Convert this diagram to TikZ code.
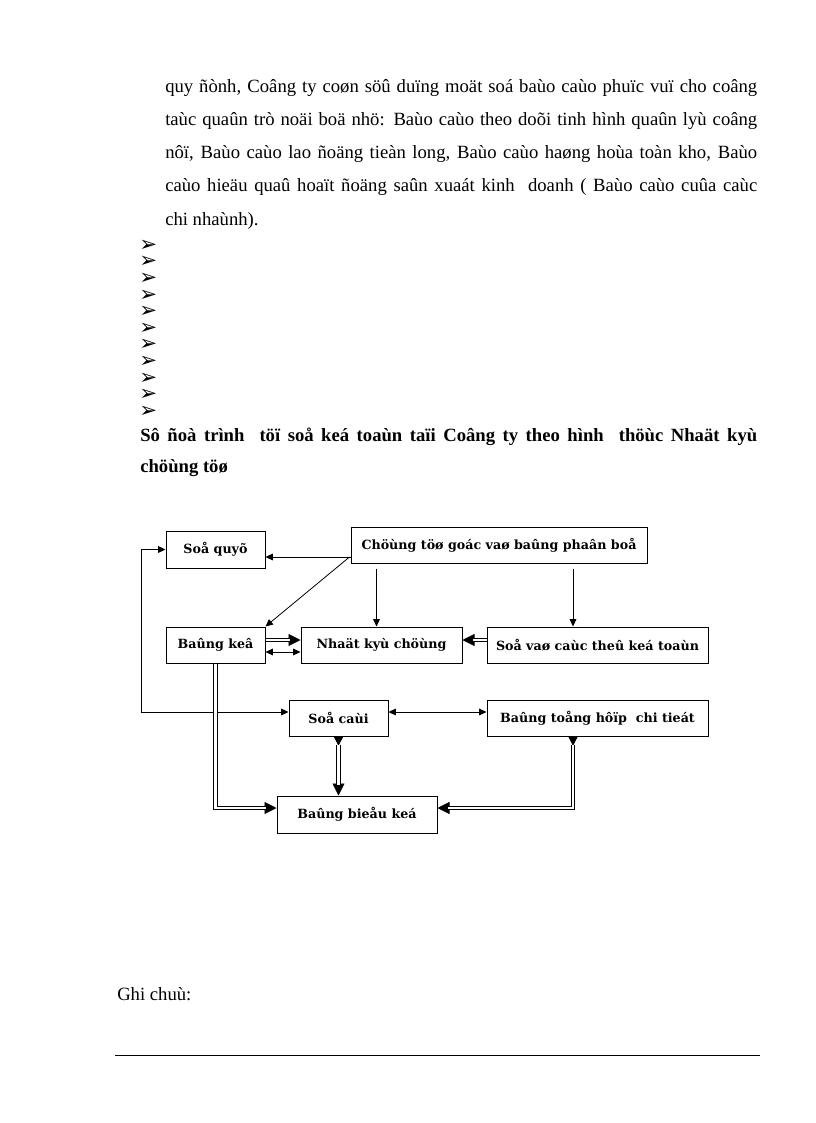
\documentclass[tikz,border=0pt]{standalone}
\usepackage{fontspec}
\setmainfont{Liberation Serif}
\newfontfamily\lblfont{DejaVu Serif}
\newfontfamily\symfont{DejaVu Sans}
\usetikzlibrary{arrows.meta,calc}
\begin{document}
\begin{tikzpicture}[x=0.75pt,y=-0.75pt,
  box/.style={draw, line width=0.75pt, inner sep=0pt, font=\lblfont\bfseries\fontsize{9.5}{11}\selectfont},
  arr/.style={line width=0.6pt, -{Triangle[length=5.5pt,width=5pt]}},
  arrb/.style={line width=0.6pt, {Triangle[length=5.5pt,width=5pt]}-{Triangle[length=5.5pt,width=5pt]}},
  tipline/.style={line width=0.6pt, -{Triangle[length=9pt,width=9pt]}},
  tiplinerev/.style={line width=0.6pt, {Triangle[reversed,length=7pt,width=7pt]}-{Triangle[length=9pt,width=9pt]}},
  dbl/.style={double, double distance=2pt, line width=0.7pt},
  bodyline/.style={anchor=base west, inner sep=0pt, text width=444pt, align=justify, font=\fontsize{14}{16}\selectfont},
  headline/.style={anchor=base west, inner sep=0pt, text width=462.75pt, align=justify, font=\bfseries\fontsize{14}{16}\selectfont},
  bullet/.style={anchor=west, inner sep=0pt, text height=7pt, text depth=0.5pt, font=\symfont\fontsize{16}{16}\selectfont}
]
\useasboundingbox[fill=white] (0,0) rectangle (816,1123);

% body text
\node[bodyline] (t1) at (165,93) {\parfillskip=0pt quy ñònh, Coâng ty coøn söû duïng moät soá baùo caùo phuïc vuï cho coâng\par};
\node[bodyline] (t2) at (165,126) {\parfillskip=0pt taùc quaûn trò noäi boä nhö: Baùo caùo theo doõi tinh hình quaûn lyù coâng\par};
\node[bodyline] (t3) at (165,159) {\parfillskip=0pt nôï, Baùo caùo lao ñoäng tieàn long, Baùo caùo haøng hoùa toàn kho, Baùo\par};
\node[bodyline] (t4) at (165,192) {\parfillskip=0pt caùo hieäu quaû hoaït ñoäng saûn xuaát kinh \ doanh ( Baùo caùo cuûa caùc\par};
\node[bodyline] (t5) at (165,225) {chi nhaùnh).};

% bullets
\foreach \i in {0,...,10}
  \node[bullet] (b\i) at (139,{247+16.6*\i}) {➢};

% heading
\node[headline] (h1) at (140,441) {\parfillskip=0pt Sô ñoà trình \ töï soå keá toaùn taïi Coâng ty theo hình \ thöùc Nhaät kyù\par};
\node[headline] (h2) at (140,472) {chöùng töø};

% boxes
\node[box, minimum width=74.25pt, minimum height=27.75pt] (soquy) at (215.5,549.5) {Soå quyõ};
\node[box, minimum width=222pt, minimum height=27pt] (chungtu) at (499,545) {Chöùng töø goác vaø baûng phaân boå};
\node[box, minimum width=74.25pt, minimum height=27pt] (bangke) at (215.5,645) {Baûng keâ};
\node[box, minimum width=120.75pt, minimum height=27pt] (nkc) at (381.5,645) {Nhaät kyù chöùng};
\node[box, minimum width=165.75pt, minimum height=27pt] (sothe) at (597.5,645) {Soå vaø caùc theû keá toaùn};
\node[box, minimum width=74.25pt, minimum height=27pt] (socai) at (338.5,718) {Soå caùi};
\node[box, minimum width=165.75pt, minimum height=27pt] (bangth) at (597.5,718) {Baûng toång hôïp \ chi tieát};
\node[box, minimum width=120pt, minimum height=27.75pt] (bangbieu) at (357,814.5) {Baûng bieåu keá};

% thin connectors
\draw[arr] ($(chungtu.west)+(0,12)$) -- ($(soquy.east)+(0,7.5)$);
\draw[arr] ($(chungtu.west)+(-1,12)$) -- (bangke.north east);
\coordinate (c3) at ($(nkc.north)+(-5,0)$);
\draw[arr] ($(chungtu.south -| c3)+(0,5)$) -- (c3);
\coordinate (c4) at ($(sothe.north)+(-24.5,0)$);
\draw[arr] ($(chungtu.south -| c4)+(0,5)$) -- (c4);
\draw[arrb] ($(bangke.east)+(0,7)$) -- ($(nkc.west)+(0,7)$);
\draw[arrb] (soquy.west) -- ++(-24,0) |- ($(socai.west)+(0,-6)$);
\draw[arrb] ($(socai.east)+(0,-6)$) -- ($(bangth.west)+(0,-6)$);

% double connectors
\draw[tipline] ($(bangke.east)+(0,-5)$) -- ($(nkc.west)+(0,-5)$);
\draw[dbl, shorten >=8pt] ($(bangke.east)+(0,-5)$) -- ($(nkc.west)+(0,-5)$);
\draw[tipline] ($(sothe.west)+(0,-5)$) -- ($(nkc.east)+(0,-5)$);
\draw[dbl, shorten >=8pt] ($(sothe.west)+(0,-5)$) -- ($(nkc.east)+(0,-5)$);
\draw[tipline] (bangke.south) |- ($(bangbieu.west)+(0,-6.5)$);
\draw[dbl, shorten >=8pt] (bangke.south) |- ($(bangbieu.west)+(0,-6.5)$);
\draw[tiplinerev] (socai.south) -- (socai.south |- bangbieu.north);
\draw[dbl, shorten <=6pt, shorten >=8pt] (socai.south) -- (socai.south |- bangbieu.north);
\coordinate (c12) at ($(bangth.south)+(-24.5,0)$);
\draw[tiplinerev] (c12) |- ($(bangbieu.east)+(0,-6.5)$);
\draw[dbl, shorten <=6pt, shorten >=8pt] (c12) |- ($(bangbieu.east)+(0,-6.5)$);

% notes
\node[anchor=base west, inner sep=0pt, font=\fontsize{14}{16}\selectfont] (ghichu) at (117,1000) {Ghi chuù:};
\coordinate (rl) at (115,1055);
\coordinate (rr) at (760,1055);
\draw[line width=0.75pt] (rl) -- (rr);
\end{tikzpicture}
\end{document}
